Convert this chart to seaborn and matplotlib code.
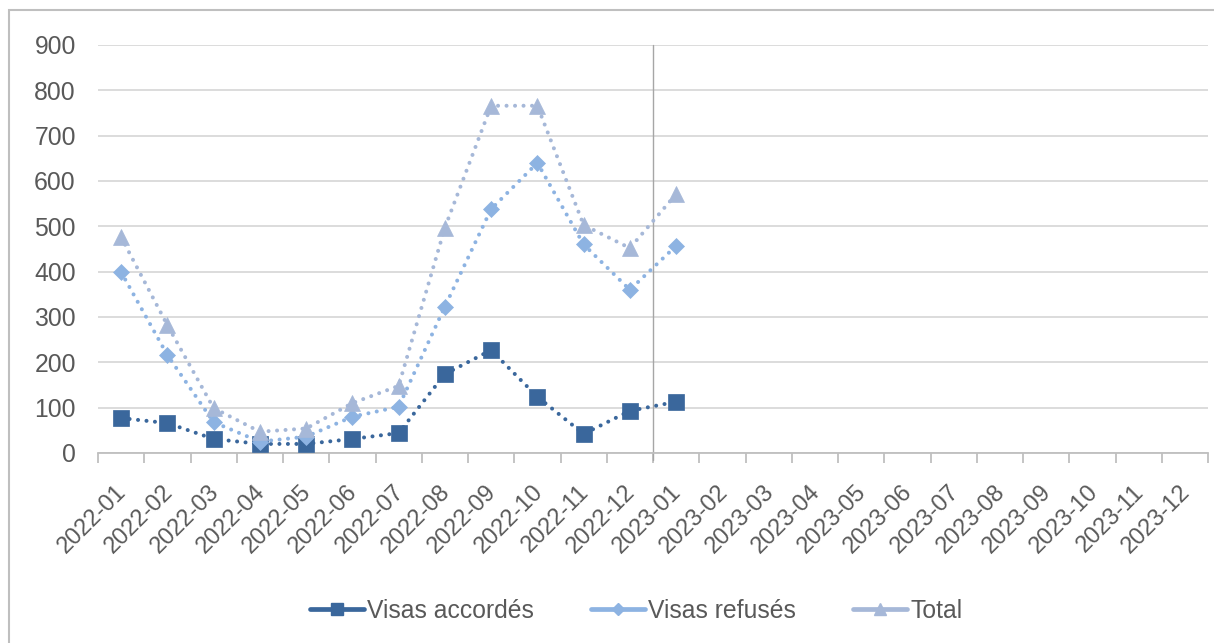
import matplotlib
matplotlib.use("Agg")
import matplotlib.pyplot as plt
import matplotlib.transforms as mtransforms
from matplotlib.patches import Rectangle
from matplotlib.lines import Line2D
import seaborn as sns
import pandas as pd

categories = [f"2022-{m:02d}" for m in range(1, 13)] + [f"2023-{m:02d}" for m in range(1, 13)]
accordes = [77, 66, 31, 20, 20, 31, 44, 174, 227, 124, 42, 93, 113]
refuses = [399, 216, 68, 25, 36, 80, 102, 323, 538, 640, 460, 360, 457]
total = [476, 282, 99, 47, 54, 110, 148, 497, 766, 766, 503, 452, 571]
yticks = [0, 100, 200, 300, 400, 500, 600, 700, 800, 900]

series_names = ["Visas accordés", "Visas refusés", "Total"]
series_values = [accordes, refuses, total]
colors = ["#3a679c", "#8db3e2", "#a6b8d8"]
markers = ["s", "D", "^"]
msizes = [11.5, 8.5, 11]

sns.set_theme(style="white")
plt.rcParams["font.family"] = ["Liberation Sans", "DejaVu Sans"]

FS = 17.8
FSX = 17.0
W, H = 1214, 643
fig = plt.figure(figsize=(W / 100, H / 100), dpi=100)
x0, x1, ytop, ybot = 98, 1208, 45, 453
ax = fig.add_axes([x0 / W, (H - ybot) / H, (x1 - x0) / W, (ybot - ytop) / H])

rows = []
for name, vals in zip(series_names, series_values):
    for i, v in enumerate(vals):
        rows.append({"pos": i, "month": categories[i], "value": v, "serie": name})
df = pd.DataFrame(rows)

for name, col, mk, ms in zip(series_names, colors, markers, msizes):
    sub = df[df["serie"] == name]
    sns.lineplot(data=sub, x="pos", y="value", ax=ax, color=col, marker=mk,
                 markersize=ms, markeredgecolor=col, markeredgewidth=0.5,
                 linewidth=2.9, linestyle=(0, (0.01, 2.1)), dash_capstyle="round",
                 legend=False, zorder=3)

ax.set_xlim(-0.5, len(categories) - 0.5)
ax.set_ylim(0, 900)
ax.set_yticks(yticks)
ax.set_yticklabels([str(v) for v in yticks])
ax.grid(axis="y", color="#d9d9d9", linewidth=1.3)
ax.grid(axis="x", visible=False)
ax.set_axisbelow(True)
for s in ["top", "right", "left"]:
    ax.spines[s].set_visible(False)
ax.spines["bottom"].set_color("#bfbfbf")
ax.spines["bottom"].set_linewidth(1.3)
ax.set_xlabel("")
ax.set_ylabel("")

# vertical separator between 2022-12 and 2023-01
ax.axvline(11.5, ymin=-0.017, ymax=1, color="#a6a6a6", linewidth=1.0, clip_on=False, zorder=2)

ax.set_xticks([i - 0.5 for i in range(len(categories) + 1)], minor=True)
ax.set_xticks(list(range(len(categories))))
ax.set_xticklabels(categories, rotation=45, ha="right", va="center",
                   rotation_mode="anchor", fontsize=FSX, color="#595959")
ax.tick_params(axis="x", which="major", length=0, pad=0)
ax.tick_params(axis="x", which="minor", length=7, width=1.3, color="#bfbfbf", bottom=True, direction="out")
ax.tick_params(axis="y", length=0, pad=16, labelsize=FS, labelcolor="#595959")
offset = mtransforms.ScaledTranslation(2 / 100, -36 / 100, fig.dpi_scale_trans)
for lab in ax.get_xticklabels():
    lab.set_transform(lab.get_transform() + offset)

handles = [Line2D([0], [0], color=c, marker=m, markersize=ms * 0.75, markeredgecolor=c, linewidth=3.4)
           for c, m, ms in zip(colors, markers, msizes)]
fig.legend(handles, series_names, loc="center", bbox_to_anchor=(636 / W, (H - 611) / H),
           ncol=3, frameon=False, fontsize=FS, labelcolor="#595959",
           handlelength=2.2, handletextpad=0.12, columnspacing=2.3)

fig.add_artist(Rectangle((9 / W, -0.1), 1.2, (H - 10) / H + 0.1, transform=fig.transFigure,
                         fill=False, edgecolor="#bfbfbf", linewidth=1.5, clip_on=False))

fig.savefig("out.png", dpi=100)
